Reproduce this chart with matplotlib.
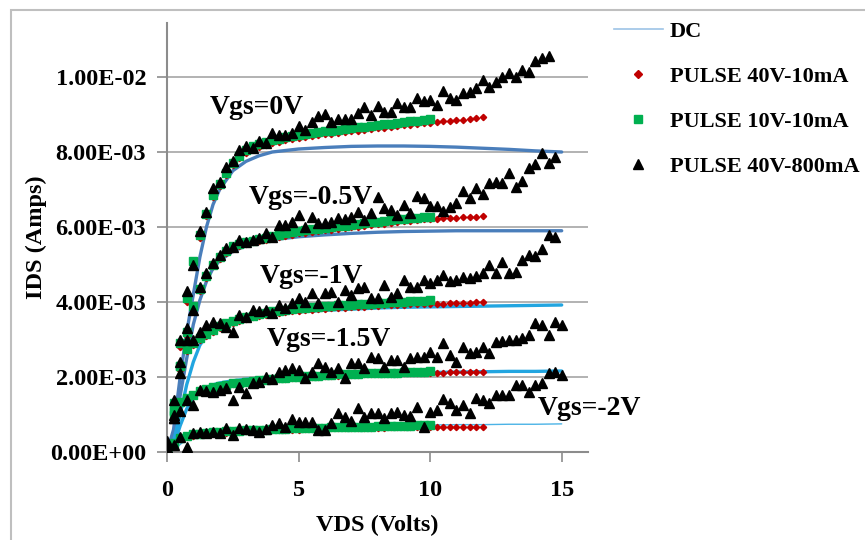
import numpy as np
import matplotlib
matplotlib.use("Agg")
import matplotlib.pyplot as plt
from matplotlib.lines import Line2D
from matplotlib.patches import Rectangle
from matplotlib.ticker import FuncFormatter

# ---- data (currents in mA) ----
STEP = 0.25  # pulsed sweep step in volts

dc_vds = [0, 0.25, 0.5, 0.75, 1, 1.25, 1.5, 1.75, 2, 2.5, 3, 3.5, 4,
          5, 6, 7, 8, 9, 10, 11, 12, 13, 14, 15]
dc_0 = [0, 0.6, 2.0, 3.2, 4.2, 5.2, 6.0, 6.6, 7.0, 7.5, 7.75, 7.9, 8.0,
        8.08, 8.12, 8.15, 8.16, 8.16, 8.15, 8.13, 8.1, 8.07, 8.03, 8.0]
dc_05 = [0, 0.5, 1.5, 2.5, 3.4, 4.05, 4.55, 4.9, 5.1, 5.35, 5.5, 5.6, 5.66,
         5.74, 5.79, 5.83, 5.86, 5.88, 5.89, 5.9, 5.9, 5.9, 5.9, 5.9]
dc_1 = [0, 0.3, 1.0, 1.8, 2.4, 2.85, 3.1, 3.3, 3.4, 3.53, 3.6, 3.65, 3.69,
        3.74, 3.78, 3.81, 3.84, 3.86, 3.87, 3.88, 3.89, 3.9, 3.91, 3.92]
dc_15 = [0, 0.15, 0.7, 1.15, 1.45, 1.62, 1.72, 1.79, 1.84, 1.9, 1.94, 1.97, 1.99,
         2.02, 2.05, 2.07, 2.09, 2.11, 2.12, 2.13, 2.14, 2.15, 2.15, 2.16]
dc_2 = [0, 0.05, 0.2, 0.35, 0.45, 0.5, 0.54, 0.57, 0.59, 0.62, 0.64, 0.65, 0.66,
        0.68, 0.69, 0.7, 0.71, 0.72, 0.72, 0.73, 0.73, 0.74, 0.74, 0.75]

# PULSE 40V-10mA (0 .. 12 V)
red_0 = [0, 1.2, 2.8, 4.0, 5.0, 5.7, 6.3, 6.8, 7.1, 7.4, 7.65, 7.85, 7.98, 8.07,
         8.14, 8.2, 8.24, 8.28, 8.32, 8.35, 8.38, 8.4, 8.42, 8.45, 8.47, 8.49,
         8.51, 8.53, 8.55, 8.57, 8.59, 8.61, 8.63, 8.65, 8.67, 8.69, 8.71, 8.73,
         8.75, 8.77, 8.78, 8.8, 8.82, 8.83, 8.85, 8.86, 8.88, 8.9, 8.92]
red_05 = [0, 1.0, 2.2, 3.1, 3.8, 4.3, 4.65, 4.95, 5.15, 5.3, 5.42, 5.5, 5.55,
          5.59, 5.62, 5.66, 5.7, 5.74, 5.77, 5.8, 5.83, 5.85, 5.87, 5.89, 5.91,
          5.93, 5.95, 5.97, 5.99, 6.01, 6.03, 6.05, 6.07, 6.09, 6.11, 6.13, 6.15,
          6.17, 6.18, 6.2, 6.21, 6.22, 6.23, 6.24, 6.25, 6.26, 6.27, 6.28, 6.3]
red_1 = [0, 1.0, 2.2, 2.7, 2.85, 2.98, 3.1, 3.2, 3.3, 3.38, 3.45, 3.5, 3.55,
         3.59, 3.63, 3.66, 3.69, 3.71, 3.73, 3.75, 3.77, 3.78, 3.8, 3.81, 3.82,
         3.83, 3.84, 3.85, 3.86, 3.87, 3.88, 3.89, 3.9, 3.91, 3.92, 3.93, 3.93,
         3.94, 3.94, 3.95, 3.95, 3.96, 3.96, 3.97, 3.97, 3.98, 3.98, 3.99, 4.0]
red_15 = [0, 0.9, 1.28, 1.4, 1.5, 1.6, 1.67, 1.72, 1.75, 1.78, 1.81, 1.83, 1.85,
          1.87, 1.89, 1.91, 1.93, 1.94, 1.96, 1.97, 1.98, 1.99, 2.0, 2.01, 2.02,
          2.03, 2.04, 2.05, 2.05, 2.06, 2.07, 2.07, 2.08, 2.08, 2.09, 2.09, 2.1,
          2.1, 2.11, 2.11, 2.12, 2.12, 2.12, 2.13, 2.13, 2.13, 2.14, 2.14, 2.14]
red_2 = [0, 0.22, 0.35, 0.41, 0.44, 0.46, 0.48, 0.5, 0.51, 0.52, 0.53, 0.54,
         0.55, 0.56, 0.57, 0.57, 0.58, 0.59, 0.59, 0.6, 0.6, 0.61, 0.61, 0.62,
         0.62, 0.63, 0.63, 0.63, 0.64, 0.64, 0.64, 0.65, 0.65, 0.65, 0.66, 0.66,
         0.66, 0.66, 0.67, 0.67, 0.67, 0.67, 0.67, 0.68, 0.68, 0.68, 0.68, 0.68, 0.68]

# PULSE 10V-10mA (0 .. 10 V)
green_0 = [0, 1.3, 2.9, 4.1, 5.1, 5.8, 6.35, 6.85, 7.15, 7.45, 7.7, 7.9, 8.05,
           8.15, 8.22, 8.28, 8.32, 8.36, 8.4, 8.43, 8.46, 8.48, 8.5, 8.53, 8.55,
           8.57, 8.6, 8.62, 8.64, 8.66, 8.68, 8.7, 8.72, 8.74, 8.76, 8.78, 8.8,
           8.82, 8.84, 8.85, 8.87]
green_05 = [0, 1.1, 2.3, 3.2, 3.9, 4.35, 4.7, 5.0, 5.2, 5.37, 5.48, 5.56, 5.6,
            5.64, 5.67, 5.72, 5.76, 5.8, 5.84, 5.87, 5.9, 5.92, 5.94, 5.96, 5.98,
            6.0, 6.02, 6.04, 6.06, 6.08, 6.1, 6.12, 6.14, 6.16, 6.18, 6.2, 6.21,
            6.23, 6.25, 6.26, 6.28]
green_1 = [0, 1.1, 2.3, 2.75, 2.9, 3.03, 3.15, 3.25, 3.35, 3.43, 3.5, 3.55, 3.6,
           3.64, 3.68, 3.72, 3.75, 3.77, 3.79, 3.81, 3.83, 3.85, 3.86, 3.87, 3.89,
           3.9, 3.91, 3.92, 3.93, 3.94, 3.95, 3.96, 3.97, 3.98, 3.99, 4.0, 4.01,
           4.02, 4.03, 4.04, 4.05]
green_15 = [0, 1.0, 1.33, 1.43, 1.52, 1.62, 1.69, 1.74, 1.77, 1.8, 1.83, 1.85,
            1.87, 1.89, 1.91, 1.93, 1.95, 1.97, 1.98, 2.0, 2.01, 2.02, 2.03, 2.04,
            2.05, 2.06, 2.07, 2.08, 2.08, 2.09, 2.1, 2.1, 2.11, 2.11, 2.12, 2.12,
            2.13, 2.13, 2.14, 2.14, 2.15]
green_2 = [0, 0.25, 0.38, 0.44, 0.47, 0.49, 0.51, 0.53, 0.54, 0.55, 0.56, 0.57,
           0.58, 0.59, 0.6, 0.6, 0.61, 0.62, 0.62, 0.63, 0.63, 0.64, 0.64, 0.65,
           0.65, 0.66, 0.66, 0.67, 0.67, 0.67, 0.68, 0.68, 0.69, 0.69, 0.69, 0.7,
           0.7, 0.7, 0.71, 0.71, 0.72]

# PULSE 40V-800mA
black_0 = [0.1, 1.4, 3.0, 4.3, 5.0, 5.9, 6.4, 7.05, 7.2, 7.6, 7.75, 8.05, 8.15,
           8.1, 8.3, 8.25, 8.5, 8.45, 8.45, 8.5, 8.7, 8.6, 8.8, 8.95, 9.0, 8.8,
           8.88, 8.88, 8.87, 9.04, 9.2, 8.98, 9.22, 9.07, 9.07, 9.3, 9.2, 9.2,
           9.44, 9.36, 9.38, 9.25, 9.63, 9.44, 9.39, 9.57, 9.6, 9.7, 9.92, 9.73,
           9.87, 10.0, 10.1, 10.0, 10.2, 10.13, 10.43, 10.5, 10.56]
black_05 = [0.1, 0.9, 2.1, 3.0, 3.8, 4.4, 4.77, 5.04, 5.25, 5.44, 5.47, 5.65,
            5.6, 5.65, 5.7, 5.84, 5.73, 6.05, 6.05, 6.13, 6.32, 6.0, 6.27, 6.1,
            6.1, 6.12, 6.24, 6.22, 6.27, 6.4, 6.19, 6.37, 6.8, 6.5, 6.45, 6.32,
            6.59, 6.37, 6.83, 6.77, 6.56, 6.56, 6.43, 6.53, 6.64, 6.96, 6.77,
            7.04, 6.88, 7.17, 7.2, 7.17, 7.44, 7.07, 7.23, 7.57, 7.68, 7.97,
            7.71, 7.87]
black_1 = [0.2, 1.0, 2.4, 3.3, 3.0, 3.2, 3.39, 3.47, 3.45, 3.33, 3.2, 3.65, 3.6,
           3.79, 3.75, 3.79, 3.71, 3.92, 3.85, 3.97, 4.1, 4.0, 4.24, 3.97, 4.24,
           4.27, 4.0, 4.32, 4.2, 4.37, 4.4, 4.1, 4.1, 4.45, 4.13, 4.24, 4.59,
           4.4, 4.4, 4.59, 4.51, 4.6, 4.72, 4.55, 4.6, 4.67, 4.65, 4.7, 4.77,
           4.99, 4.77, 5.07, 4.77, 4.8, 5.12, 5.25, 5.23, 5.41, 5.79, 5.73]
black_15 = [0.3, 0.9, 1.1, 1.39, 1.25, 1.65, 1.62, 1.6, 1.65, 1.71, 1.39, 1.73,
            1.57, 1.84, 1.86, 2.0, 1.95, 2.13, 2.19, 2.24, 2.18, 1.97, 2.13, 2.37,
            2.27, 2.13, 2.24, 1.97, 2.37, 2.37, 2.24, 2.53, 2.5, 2.27, 2.45, 2.45,
            2.27, 2.51, 2.53, 2.53, 2.67, 2.53, 2.9, 2.59, 2.4, 2.8, 2.64, 2.67,
            2.8, 2.64, 2.93, 2.95, 2.99, 3.0, 3.04, 3.12, 3.44, 3.39, 3.12, 3.47,
            3.39]
black_2 = [0.05, 0.19, 0.4, 0.13, 0.5, 0.53, 0.5, 0.53, 0.5, 0.64, 0.45, 0.64,
           0.62, 0.59, 0.53, 0.62, 0.72, 0.77, 0.67, 0.88, 0.8, 0.8, 0.8, 0.59,
           0.59, 0.77, 1.04, 0.93, 0.83, 1.17, 0.93, 1.04, 1.04, 0.91, 1.04, 1.07,
           0.99, 0.95, 1.2, 0.67, 1.07, 1.12, 1.41, 1.31, 1.12, 1.25, 1.04, 1.44,
           1.39, 1.31, 1.52, 1.52, 1.52, 1.79, 1.79, 1.6, 1.79, 1.84, 2.1, 2.13,
           2.05]

curve_labels = ["Vgs=0V", "Vgs=-0.5V", "Vgs=-1V", "Vgs=-1.5V", "Vgs=-2V"]
label_pos = [(3.42, 9.2), (5.45, 6.8), (5.5, 4.68), (6.15, 3.0), (16.05, 1.17)]

legend_labels = ["DC", "PULSE 40V-10mA", "PULSE 10V-10mA", "PULSE 40V-800mA"]

# ---- styling ----
plt.rcParams['font.family'] = ['Liberation Serif', 'DejaVu Serif']
plt.rcParams['font.weight'] = 'bold'

dc_sets = [dc_0, dc_05, dc_1, dc_15, dc_2]
dc_colors = ['#4A7EBB', '#4A7EBB', '#22A5E0', '#22A5E0', '#4BB3E6']
dc_widths = [2.4, 2.4, 2.4, 2.4, 1.0]
red_sets = [red_0, red_05, red_1, red_15, red_2]
green_sets = [green_0, green_05, green_1, green_15, green_2]
black_sets = [black_0, black_05, black_1, black_15, black_2]

RED = '#C00000'
GREEN = '#00B050'

fig = plt.figure(figsize=(8.65, 5.4), dpi=100)
ax = fig.add_axes([167 / 865, 88 / 540, 421 / 865, 429 / 540])

for i in range(5):
    ax.plot(dc_vds, np.array(dc_sets[i]) * 1e-3, color=dc_colors[i],
            lw=dc_widths[i], zorder=2, solid_capstyle='round')
for i in range(5):
    y = np.array(red_sets[i]) * 1e-3
    ax.plot(STEP * np.arange(len(y)), y, ls='none', marker='D', ms=3.2,
            color=RED, zorder=3)
for i in range(5):
    y = np.array(green_sets[i]) * 1e-3
    ax.plot(STEP * np.arange(len(y)), y, ls='none', marker='s', ms=6.3,
            color=GREEN, zorder=4)
for i in range(5):
    y = np.array(black_sets[i]) * 1e-3
    ax.plot(STEP * np.arange(len(y)), y, ls='none', marker='^', ms=7,
            color='black', zorder=5)

for txt, (x, y) in zip(curve_labels, label_pos):
    ax.text(x, y * 1e-3, txt, fontsize=20, fontweight='bold', ha='center',
            va='center', zorder=6, clip_on=False)

ax.set_xlim(0, 16)
ax.set_ylim(0, 0.01144)
ax.set_xticks([0, 5, 10, 15])
ax.set_yticks([0, 0.002, 0.004, 0.006, 0.008, 0.010])
ax.yaxis.set_major_formatter(FuncFormatter(lambda v, p: "%.2E" % v))
ax.grid(axis='y', color='#A6A6A6', lw=1.2, zorder=0)
ax.set_axisbelow(True)
for s in ['top', 'right']:
    ax.spines[s].set_visible(False)
for s in ['left', 'bottom']:
    ax.spines[s].set_color('#8C8C8C')
    ax.spines[s].set_linewidth(1.5)
ax.tick_params(axis='both', colors='#8C8C8C', length=7, width=1.2,
               labelcolor='black', labelsize=17.5)
ax.tick_params(axis='x', pad=13)
ax.tick_params(axis='y', pad=8)
ax.set_xlabel("VDS (Volts)", fontsize=17.5, fontweight='bold', labelpad=10)
ax.set_ylabel("IDS (Amps)", fontsize=17.5, fontweight='bold', labelpad=2)

handles = [
    Line2D([], [], color='#9DC3E6', lw=1.2),
    Line2D([], [], ls='none', marker='D', ms=4, color=RED),
    Line2D([], [], ls='none', marker='s', ms=6, color=GREEN),
    Line2D([], [], ls='none', marker='^', ms=7, color='black'),
]
fig.legend(handles, legend_labels, loc='upper left',
           bbox_to_anchor=(614 / 865, 1 - 21 / 540), frameon=False,
           prop={'weight': 'bold', 'size': 16},
           handlelength=2.2, handletextpad=0.3, labelspacing=1.1,
           borderpad=0, borderaxespad=0)

# outer chart frame (left and top edges show)
fig.patches.append(Rectangle((11 / 865, -0.1), 1.2, 1.1 - 10 / 540,
                             transform=fig.transFigure, fill=False,
                             edgecolor='#BFBFBF', lw=1.5))

fig.savefig("out.png", dpi=100)
